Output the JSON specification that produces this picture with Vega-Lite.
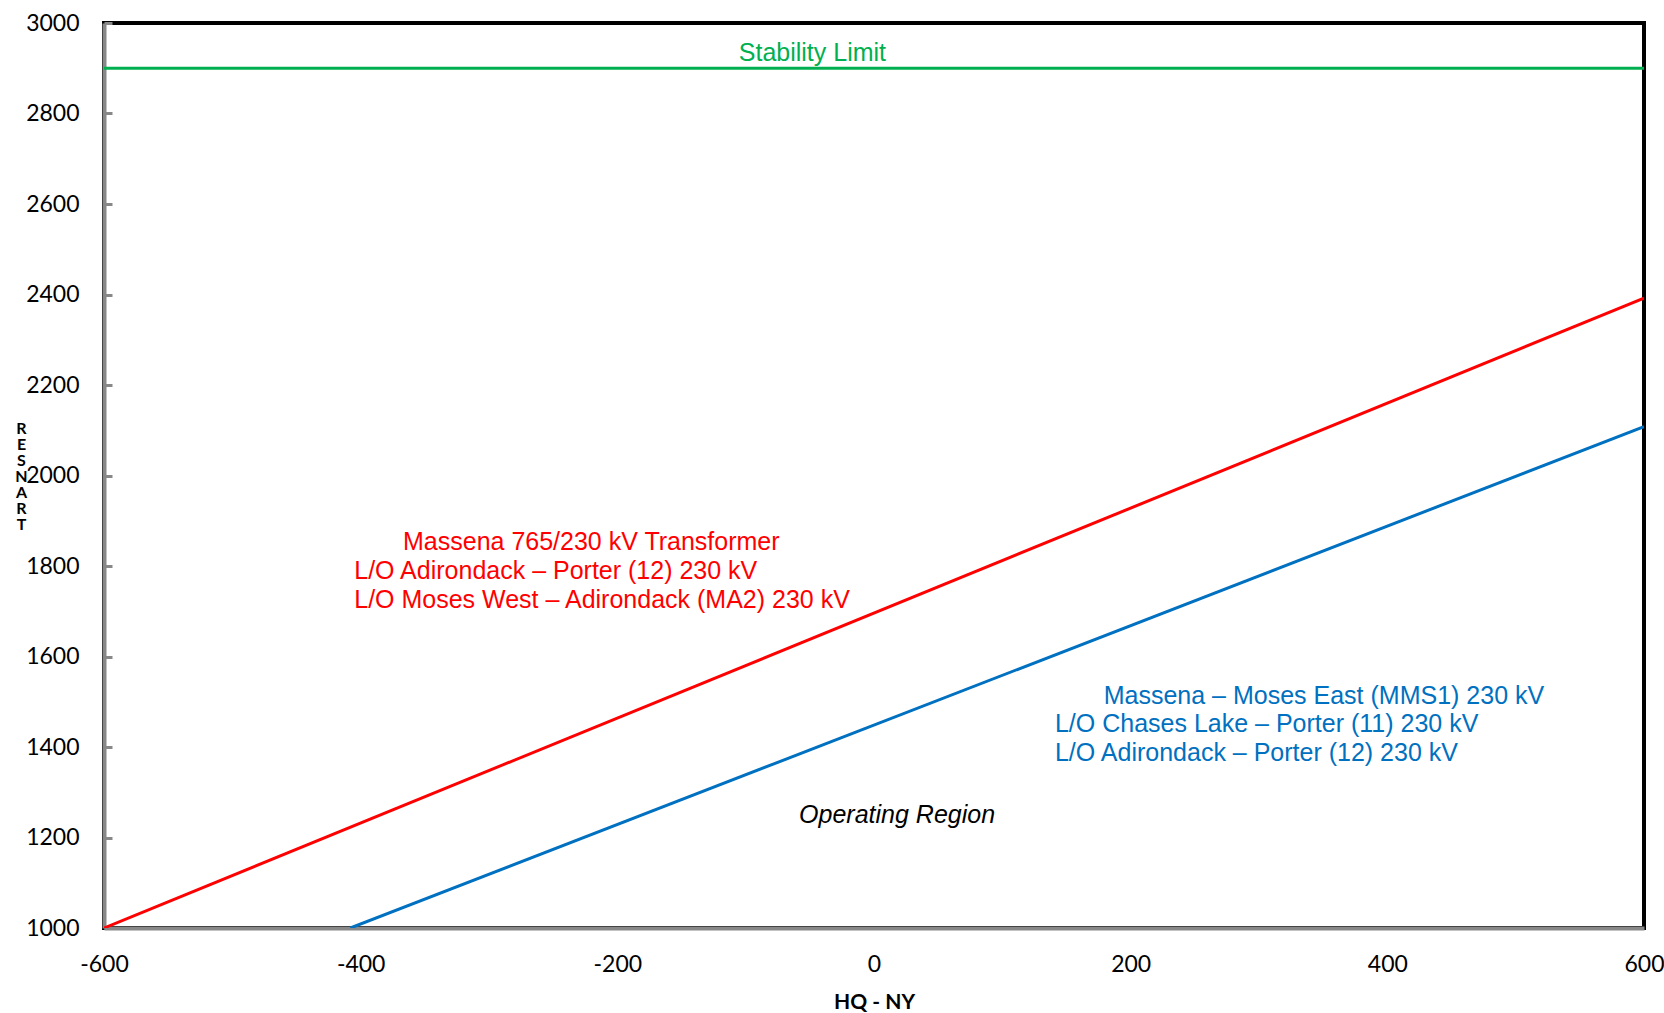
{
  "$schema": "https://vega.github.io/schema/vega-lite/v6.json",
  "width": 1540,
  "height": 905,
  "autosize": {"type": "none"},
  "padding": {"left": 104, "top": 23, "right": 20, "bottom": 85},
  "background": "white",
  "config": {
    "view": {"stroke": "black", "strokeWidth": 4},
    "axis": {"labelFont": "Lato", "titleFont": "Lato", "labelColor": "black", "titleColor": "black", "grid": false}
  },
  "datasets": {
    "lines": [
      {"series": "red", "hq": -600, "flow": 1000},
      {"series": "red", "hq": 600, "flow": 2392},
      {"series": "blue", "hq": -408, "flow": 1000},
      {"series": "blue", "hq": 600, "flow": 2108},
      {"series": "green", "hq": -600, "flow": 2900},
      {"series": "green", "hq": 600, "flow": 2900}
    ],
    "notes": [
      {"series": "red", "kind": "left", "label": "Massena 765/230 kV Transformer", "hq": -367, "flow": 1836},
      {"series": "red", "kind": "left", "label": "L/O Adirondack – Porter (12) 230 kV", "hq": -405, "flow": 1772},
      {"series": "red", "kind": "left", "label": "L/O Moses West – Adirondack (MA2) 230 kV", "hq": -405, "flow": 1708},
      {"series": "blue", "kind": "left", "label": "Massena – Moses East (MMS1) 230 kV", "hq": 179, "flow": 1496},
      {"series": "blue", "kind": "left", "label": "L/O Chases Lake – Porter (11) 230 kV", "hq": 141, "flow": 1434},
      {"series": "blue", "kind": "left", "label": "L/O Adirondack – Porter (12) 230 kV", "hq": 141, "flow": 1369},
      {"series": "green", "kind": "center", "label": "Stability Limit", "hq": -48, "flow": 2916},
      {"series": "black", "kind": "italic", "label": "Operating Region", "hq": 18, "flow": 1232}
    ]
  },
  "layer": [
    {
      "data": {"name": "lines"},
      "mark": {"type": "line", "strokeWidth": 3, "clip": true},
      "encoding": {
        "x": {
          "field": "hq", "type": "quantitative",
          "scale": {"domain": [-600, 600], "nice": false, "zero": false},
          "axis": {
            "title": "HQ - NY", "titleFontSize": 21, "titleFontWeight": "bold", "titlePadding": 15,
            "values": [-600, -400, -200, 0, 200, 400, 600], "labelExpr": "'' + datum.value",
            "labelFontSize": 23, "labelPadding": 25, "ticks": false,
            "domainColor": "#888888", "domainWidth": 4, "labelFlush": false
          }
        },
        "y": {
          "field": "flow", "type": "quantitative",
          "scale": {"domain": [1000, 3000], "nice": false, "zero": false},
          "axis": {
            "title": ["R", "E", "S", "N", "A", "R", "T"], "titleAngle": 0, "titleFontSize": 16, "titleFontWeight": "bold",
            "titleLineHeight": 16, "titleX": -83, "titleY": 405, "titleAlign": "center", "titleBaseline": "middle",
            "values": [1000, 1200, 1400, 1600, 1800, 2000, 2200, 2400, 2600, 2800, 3000], "labelExpr": "'' + datum.value",
            "labelFontSize": 23, "labelPadding": 33, "tickSize": -8, "tickWidth": 3, "tickColor": "#888888",
            "domainColor": "#888888", "domainWidth": 4, "labelFlush": false
          }
        },
        "color": {
          "field": "series", "type": "nominal",
          "scale": {"domain": ["red", "blue", "green", "black"], "range": ["#FF0000", "#0070C0", "#00B050", "#000000"]},
          "legend": null
        },
        "detail": {"field": "series"}
      }
    },
    {
      "data": {"name": "notes"},
      "transform": [{"filter": "datum.kind === 'left'"}],
      "mark": {"type": "text", "align": "left", "baseline": "alphabetic", "font": "Liberation Sans", "fontSize": 25},
      "encoding": {
        "x": {"field": "hq", "type": "quantitative"},
        "y": {"field": "flow", "type": "quantitative"},
        "text": {"field": "label"},
        "color": {"field": "series", "type": "nominal", "legend": null}
      }
    },
    {
      "data": {"name": "notes"},
      "transform": [{"filter": "datum.kind === 'center'"}],
      "mark": {"type": "text", "align": "center", "baseline": "alphabetic", "font": "Liberation Sans", "fontSize": 25},
      "encoding": {
        "x": {"field": "hq", "type": "quantitative"},
        "y": {"field": "flow", "type": "quantitative"},
        "text": {"field": "label"},
        "color": {"field": "series", "type": "nominal", "legend": null}
      }
    },
    {
      "data": {"name": "notes"},
      "transform": [{"filter": "datum.kind === 'italic'"}],
      "mark": {"type": "text", "align": "center", "baseline": "alphabetic", "font": "Liberation Sans", "fontSize": 25, "fontStyle": "italic"},
      "encoding": {
        "x": {"field": "hq", "type": "quantitative"},
        "y": {"field": "flow", "type": "quantitative"},
        "text": {"field": "label"},
        "color": {"field": "series", "type": "nominal", "legend": null}
      }
    }
  ]
}
